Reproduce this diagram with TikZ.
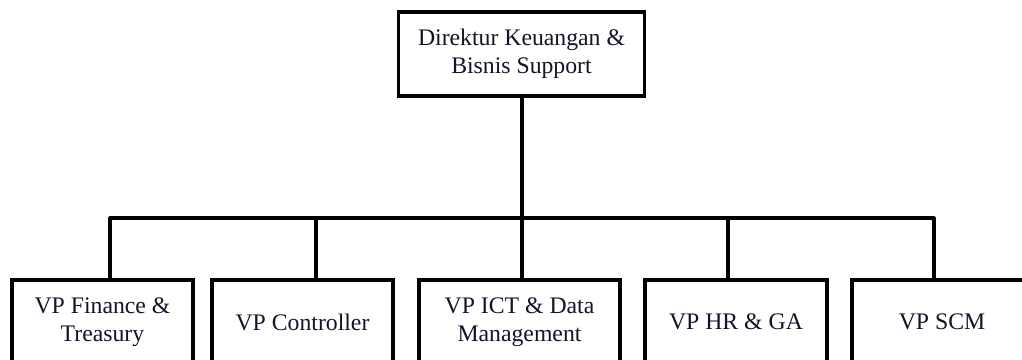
\documentclass[tikz,border=0pt]{standalone}
\usepackage{fontspec}
\setmainfont{Liberation Serif}
\definecolor{inkblue}{RGB}{18,20,42}
\begin{document}
\begin{tikzpicture}[x=0.75pt,y=-0.75pt,
  jabatan/.style={draw, line width=2.4pt, minimum height=63pt, inner sep=0pt,
    align=center, text=inkblue, font=\fontsize{17.8}{21}\selectfont},
  garis/.style={line width=2.4pt}]
\useasboundingbox (0,0) rectangle (1022,360);
\clip (0,0) rectangle (1022,360);
\fill[white] (0,0) rectangle (1022,360);
\node[jabatan, minimum width=185pt] (dir) at (521.5,54) {Direktur Keuangan \&\\Bisnis Support};
\node[jabatan, minimum width=135.75pt] (vp1) at (102.5,322) {VP Finance \&\\Treasury};
\node[jabatan, minimum width=135.75pt] (vp2) at (302.5,322) {VP Controller};
\node[jabatan, minimum width=150.75pt] (vp3) at (519.5,322) {VP ICT \& Data\\Management};
\node[jabatan, minimum width=136.5pt] (vp4) at (736,322) {VP HR \& GA};
\node[jabatan, minimum width=135pt] (vp5) at (942,322) {VP SCM};
\coordinate (bus) at (522,218);
\coordinate (j1) at (110,218);
\coordinate (j2) at (316,218);
\coordinate (j3) at (522,218);
\coordinate (j4) at (728,218);
\coordinate (j5) at (934,218);
\draw[garis](dir.south -| bus) -- (bus);
\draw[garis, line join=round](j1 |- vp1.north) -- (j1) -- (j5) -- (j5 |- vp5.north);
\draw[garis](j2) -- (j2 |- vp2.north);
\draw[garis](j3) -- (j3 |- vp3.north);
\draw[garis](j4) -- (j4 |- vp4.north);
\end{tikzpicture}
\end{document}
